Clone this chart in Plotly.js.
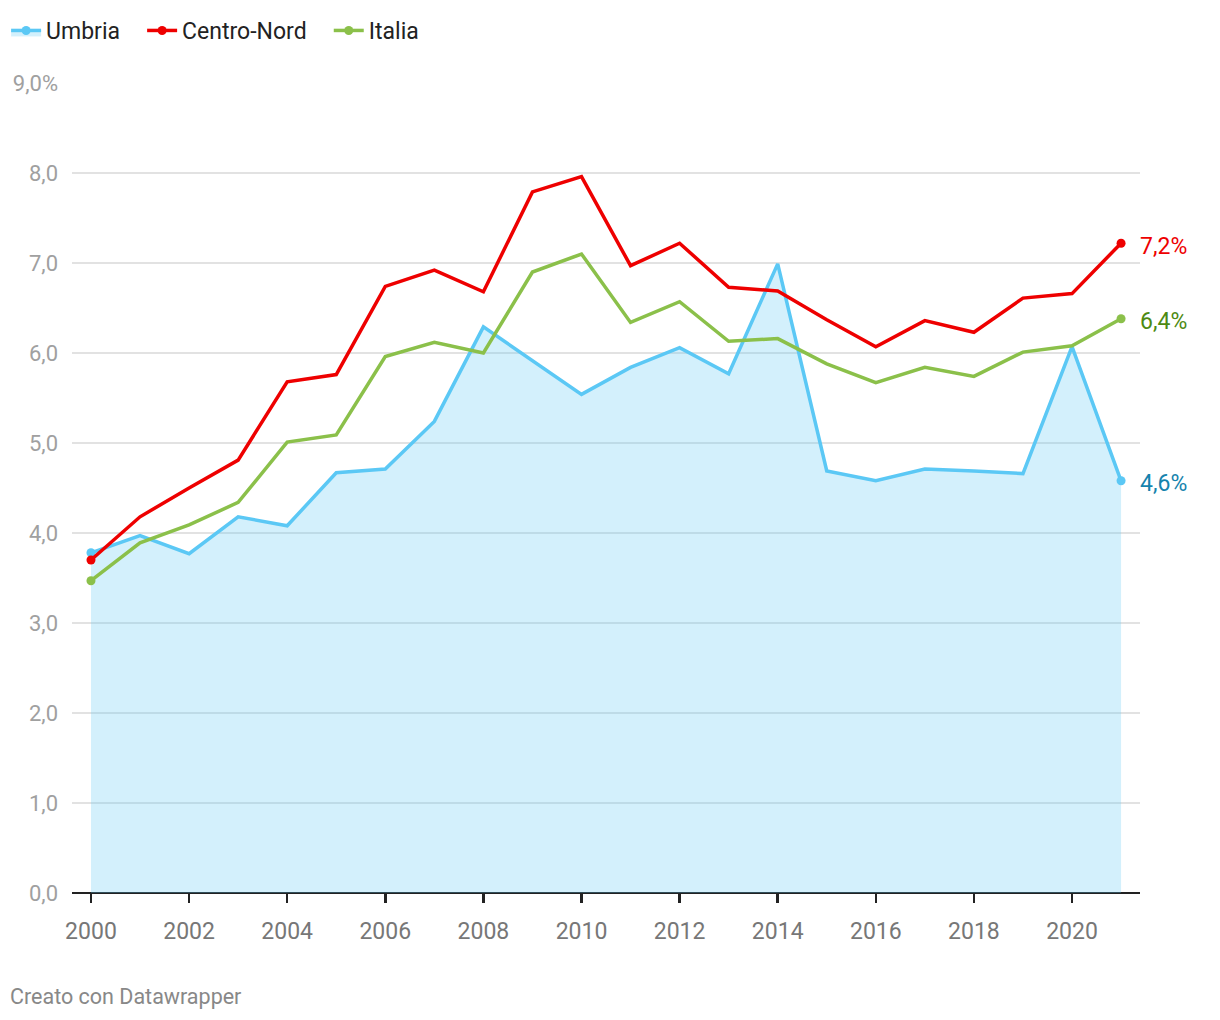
<!DOCTYPE html>
<html>
<head>
<meta charset="utf-8">
<script src="https://cdn.plot.ly/plotly-3.0.1.min.js"></script>
<style>
html,body{margin:0;padding:0;background:#fff;}
#chart{width:1220px;height:1020px;}
</style>
</head>
<body>
<div id="chart"></div>
<script>
const years = [2000,2001,2002,2003,2004,2005,2006,2007,2008,2009,2010,2011,2012,2013,2014,2015,2016,2017,2018,2019,2020,2021];
const umbria = [3.78,3.97,3.77,4.18,4.08,4.67,4.71,5.24,6.29,5.91,5.54,5.84,6.06,5.77,6.99,4.69,4.58,4.71,4.69,4.66,6.07,4.58];
const centroNord = [3.70,4.18,4.50,4.81,5.68,5.76,6.74,6.92,6.68,7.79,7.96,6.97,7.22,6.73,6.69,6.37,6.07,6.36,6.23,6.61,6.66,7.22];
const italia = [3.47,3.89,4.09,4.34,5.01,5.09,5.96,6.12,6.00,6.90,7.10,6.34,6.57,6.13,6.16,5.88,5.67,5.84,5.74,6.01,6.08,6.38];
const seriesNames = ['Umbria','Centro-Nord','Italia'];
const yTicks = [0,1,2,3,4,5,6,7,8,9];
const yTickText = ['0,0','1,0','2,0','3,0','4,0','5,0','6,0','7,0','8,0','9,0%'];
const xTicks = [2000,2002,2004,2006,2008,2010,2012,2014,2016,2018,2020];

const colBlue = '#5bc8f5', colRed = '#ee0000', colGreen = '#8bc04a';
const labelCols = ['#1583ad','#ee0000','#4d8a12'];

function endMarkers(col, n){
  const arr = [];
  for(let i=0;i<n;i++) arr.push((i===0||i===n-1)?col:'rgba(0,0,0,0)');
  return arr;
}
function fmt(v){ return v.toFixed(1).replace('.',',') + '%'; }
const pad = '\u00a0\u00a0\u00a0';

const traces = [
  {x: years, y: umbria, name: seriesNames[0] + pad, type:'scatter', mode:'lines+markers',
   fill:'tozeroy', fillcolor:'rgba(91,200,245,0.27)',
   line:{color:colBlue,width:3.5}, marker:{size:9,color:endMarkers(colBlue,years.length)}},
  {x: years, y: centroNord, name: seriesNames[1] + pad, type:'scatter', mode:'lines+markers',
   line:{color:colRed,width:3.5}, marker:{size:9,color:endMarkers(colRed,years.length)}},
  {x: years, y: italia, name: seriesNames[2], type:'scatter', mode:'lines+markers',
   line:{color:colGreen,width:3.5}, marker:{size:9,color:endMarkers(colGreen,years.length)}}
];

const last = years.length-1;
const series = [umbria, centroNord, italia];
const annotations = series.map((s,i)=>({
  x: years[last], y: s[last], xref:'x', yref:'y', text: fmt(s[last]),
  showarrow:false, xanchor:'left', yanchor:'middle', xshift:17, yshift:-3,
  font:{family:'Roboto', size:23, color:labelCols[i]}
}));
annotations.push({
  x:(10-72)/1068, y:(893-996)/810, xref:'paper', yref:'paper', text:'Creato con Datawrapper', showarrow:false,
  xanchor:'left', yanchor:'middle', xshift:-2, font:{family:'Roboto', size:21.5, color:'#888'}
});

const layout = {
  width:1220, height:1020,
  margin:{l:72, r:80, t:83, b:127},
  paper_bgcolor:'#fff', plot_bgcolor:'#fff',
  font:{family:'Roboto', color:'#222'},
  showlegend:true,
  legend:{orientation:'h', xref:'container', yref:'container', x:0.005, y:1-9/1020,
    xanchor:'left', yanchor:'top', font:{family:'Roboto', size:23, color:'#222'},
    itemwidth:30, tracegroupgap:0, bgcolor:'rgba(0,0,0,0)'},
  xaxis:{range:[1999.613, 2021.386], tickvals:xTicks, ticktext:xTicks.map(String),
    showgrid:false, zeroline:false, showline:false, ticks:'outside', ticklen:9, tickwidth:2.5, tickcolor:'#222',
    ticklabelstandoff:8,
    tickfont:{family:'Roboto', size:23, color:'#777'}, fixedrange:true},
  yaxis:{range:[0,9], tickvals:yTicks, ticktext:yTickText, showgrid:true, gridcolor:'#e2e2e2', gridwidth:1.5,
    zeroline:true, zerolinecolor:'#222', zerolinewidth:2.5, showline:false, ticks:'', ticklabelstandoff:13,
    tickfont:{family:'Roboto', size:22, color:'#a0a0a0'}, fixedrange:true},
  annotations: annotations
};

Plotly.newPlot('chart', traces, layout, {displayModeBar:false, staticPlot:true});
</script>
</body>
</html>
